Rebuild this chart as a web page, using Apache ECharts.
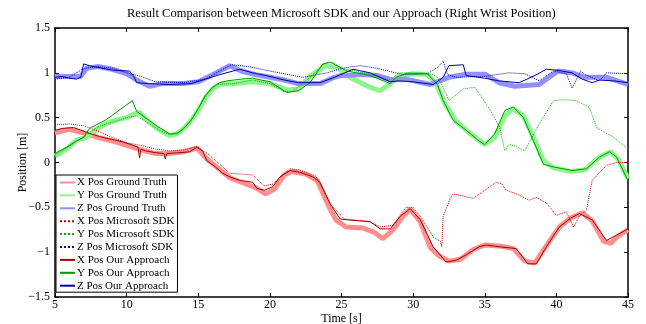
<!DOCTYPE html>
<html>
<head>
<meta charset="utf-8">
<script src="https://cdn.jsdelivr.net/npm/echarts@6/dist/echarts.min.js"></script>
<style>
  html, body { margin: 0; padding: 0; background: #fff; }
  #main { width: 646px; height: 324px; }
</style>
</head>
<body>
<div id="main"></div>
<script>
// [time s, position m]
var xGT = [[5,0.33],[6,0.37],[7,0.33],[8,0.28],[9,0.24],[10,0.19],[11,0.14],[12,0.1],[13,0.1],[14,0.12],[14.9,0.16],[15.6,0.04],[16.5,-0.08],[17.2,-0.17],[18,-0.22],[19,-0.28],[19.7,-0.35],[20.3,-0.3],[21,-0.14],[21.5,-0.1],[22.5,-0.13],[23.3,-0.2],[24,-0.45],[24.6,-0.64],[25.3,-0.72],[26.5,-0.73],[27.3,-0.78],[27.9,-0.85],[28.6,-0.75],[29.3,-0.6],[29.8,-0.52],[30.5,-0.66],[31.2,-0.95],[31.8,-1.04],[32.5,-1.1],[33.3,-1.08],[34.2,-0.97],[35,-0.92],[36,-0.93],[37,-0.96],[37.8,-1.1],[38.5,-1.12],[39.3,-0.93],[40.2,-0.72],[41,-0.62],[41.8,-0.56],[42.5,-0.65],[43.3,-0.88],[43.8,-0.9],[44.3,-0.82],[45,-0.75]];
var yGT = [[5,0.07],[5.8,0.15],[6.5,0.25],[7,0.27],[7.4,0.3],[8,0.38],[8.5,0.43],[9.2,0.47],[10,0.5],[10.5,0.54],[10.9,0.56],[11.5,0.46],[12.2,0.37],[13,0.3],[13.5,0.32],[14,0.38],[14.5,0.47],[15,0.58],[15.5,0.72],[16,0.82],[16.5,0.87],[17.5,0.88],[18.8,0.9],[20,0.88],[21.2,0.81],[22,0.82],[22.8,0.96],[23.9,1.08],[24.8,1.05],[25.8,0.93],[27,0.84],[27.7,0.8],[28.4,0.88],[29,0.96],[30,0.99],[31,0.98],[31.6,0.88],[32.2,0.66],[33,0.46],[34,0.32],[35,0.2],[35.7,0.28],[36.4,0.52],[37,0.6],[37.7,0.52],[38.4,0.28],[39.1,0.02],[39.8,-0.06],[41,-0.1],[42,-0.08],[43,0.06],[43.8,0.12],[44.3,0.04],[45,-0.18]];
var zGT = [[5,0.96],[6,0.96],[6.8,0.96],[7.2,1.05],[8,1.07],[9,1.04],[10,0.99],[10.6,0.93],[11.2,0.88],[11.6,0.85],[12.5,0.88],[14,0.88],[15,0.9],[16,0.98],[17.2,1.08],[18,1.02],[19,0.98],[20,0.95],[21,0.92],[22,0.88],[23.5,0.88],[24.5,0.95],[25,0.97],[26.5,0.98],[27.5,0.97],[28.5,0.92],[29.5,0.93],[31.2,0.87],[32.5,0.95],[33.7,0.985],[35,0.985],[36,0.89],[37.1,0.85],[38.8,0.87],[40.1,1.02],[41.1,1.0],[42,0.95],[43.5,0.95],[45,0.87]];

var xSDK = [[5,0.42],[6,0.43],[7,0.41],[8,0.35],[9,0.28],[10,0.22],[11,0.19],[12,0.15],[13,0.13],[14,0.14],[14.9,0.18],[15.8,0.08],[16.5,-0.02],[17.2,-0.12],[18,-0.13],[18.8,-0.14],[19.6,-0.26],[20.2,-0.24],[21.4,-0.07],[22,-0.08],[23.2,-0.15],[24.3,-0.48],[25.2,-0.63],[27,-0.66],[27.7,-0.72],[28.6,-0.7],[29.5,-0.5],[30,-0.5],[30.6,-0.62],[31.4,-0.83],[31.9,-0.88],[32.0,-0.94],[32.1,-0.6],[32.6,-0.4],[32.8,-0.35],[34.2,-0.4],[35.8,-0.22],[36.2,-0.24],[36.5,-0.31],[37.2,-0.35],[38.1,-0.42],[38.6,-0.39],[39.3,-0.45],[40,-0.59],[40.7,-0.55],[41.2,-0.72],[41.6,-0.6],[42.1,-0.53],[42.5,-0.2],[43.5,-0.03],[44.2,0.0],[45,0.0]];
var ySDK = [[5,0.08],[6,0.18],[7,0.29],[8,0.4],[9,0.45],[10,0.5],[10.7,0.52],[11.5,0.44],[12.3,0.36],[13,0.31],[13.7,0.34],[14.5,0.47],[15,0.6],[15.7,0.78],[16.3,0.87],[17.5,0.88],[18.8,0.92],[20,0.88],[21,0.79],[21.5,0.79],[22.3,0.88],[23,0.98],[23.8,1.1],[24.4,1.12],[25,1.05],[26,1.02],[27,0.98],[28.4,0.92],[29,1.0],[30.5,1.0],[31.4,0.98],[31.7,0.95],[32.1,0.84],[32.5,0.69],[33.5,0.82],[34.3,0.84],[35.4,0.58],[36.05,0.39],[36.4,0.13],[36.7,0.2],[37.2,0.18],[37.8,0.13],[38.8,0.43],[39.8,0.69],[40.5,0.7],[41.4,0.69],[42.3,0.615],[42.8,0.39],[44,0.28],[45,0.15]];
var zSDK = [[5,0.93],[6,0.95],[7,1.05],[8,1.07],[9,1.05],[10,1.0],[11,0.96],[12,0.9],[14,0.89],[15.5,0.93],[16.5,1.02],[17.3,1.09],[18.5,1.07],[20,1.02],[22.3,0.95],[24,1.0],[25,1.05],[26.3,1.08],[27.5,1.05],[29.3,0.98],[31,0.99],[31.7,1.06],[32.1,1.13],[32.4,0.98],[33,0.95],[35,0.96],[36,0.985],[36.7,1.0],[37.8,0.99],[38.8,0.91],[39.8,1.02],[40.7,0.99],[41.1,0.83],[41.7,1.02],[42,0.98],[43,0.91],[43.5,1.0],[45,0.99]];

var xOurs = [[5,0.36],[5.5,0.38],[6.3,0.39],[6.8,0.36],[7.5,0.32],[8.1,0.29],[8.6,0.27],[9.2,0.25],[9.7,0.23],[10.3,0.2],[10.8,0.17],[10.9,0.05],[11.0,0.15],[11.3,0.13],[12,0.11],[12.6,0.1],[12.7,0.04],[12.8,0.1],[13.8,0.11],[14.4,0.12],[14.9,0.17],[15.3,0.13],[15.6,0.02],[16.2,-0.05],[16.7,-0.12],[17.2,-0.16],[17.9,-0.2],[18.8,-0.22],[19.1,-0.29],[19.6,-0.31],[20.2,-0.27],[20.7,-0.16],[21.4,-0.09],[22.1,-0.11],[23.0,-0.16],[23.5,-0.22],[24.2,-0.46],[24.9,-0.63],[25.8,-0.645],[27,-0.66],[27.7,-0.74],[28.4,-0.74],[29.1,-0.6],[29.8,-0.515],[30.5,-0.64],[31.4,-0.94],[32.3,-1.11],[33,-1.09],[33.7,-1.03],[34.6,-0.94],[35.1,-0.92],[36,-0.94],[37.2,-0.96],[38,-1.13],[38.6,-1.13],[39.3,-0.94],[40.2,-0.72],[41,-0.62],[41.6,-0.57],[42.5,-0.64],[43.5,-0.87],[44.2,-0.81],[45,-0.74]];
var yOurs = [[5,0.1],[5.8,0.17],[6.5,0.24],[7,0.28],[7.4,0.38],[8,0.43],[8.5,0.47],[9.2,0.55],[9.8,0.62],[10.4,0.69],[10.7,0.57],[11.3,0.5],[12,0.42],[13,0.32],[13.5,0.32],[14,0.38],[14.5,0.47],[15,0.6],[15.5,0.75],[16,0.84],[16.5,0.89],[17,0.91],[18,0.93],[18.8,0.94],[20,0.9],[21.2,0.78],[22,0.8],[22.8,0.89],[23.7,1.1],[24.2,1.12],[25.4,1.02],[27,0.97],[28.4,0.88],[28.8,0.95],[29.5,0.99],[31,0.99],[31.7,0.87],[32.1,0.69],[32.8,0.47],[33.7,0.36],[34.6,0.24],[35,0.2],[35.7,0.32],[36.4,0.58],[37,0.62],[37.7,0.5],[38.4,0.24],[39.1,-0.02],[39.8,-0.05],[41.1,-0.09],[42.1,-0.07],[43,0.06],[43.7,0.12],[44.2,0.06],[45,-0.2]];
var zOurs = [[5,0.95],[5.5,0.96],[6,0.94],[6.5,0.93],[6.8,0.95],[7,1.1],[7.4,1.08],[8,1.06],[9,1.03],[10.2,1.02],[10.5,0.96],[10.7,0.89],[11.5,0.88],[13,0.87],[14.5,0.88],[15.5,0.93],[16.5,0.98],[17.9,1.04],[18.8,1.0],[20,0.96],[21,0.92],[22,0.89],[23.5,0.89],[24.5,0.95],[25.8,1.04],[27,1.0],[28.4,0.9],[29,0.91],[30,0.9],[31.4,0.87],[32.1,0.95],[32.5,1.08],[33.5,1.09],[33.7,0.97],[35,0.94],[36,0.91],[37.4,0.89],[38.5,0.97],[39.3,1.04],[40,1.03],[41.1,1.0],[41.8,0.93],[42.5,0.89],[43,0.92],[44,0.91],[45,0.89]];

var names = ['X Pos Ground Truth','Y Pos Ground Truth','Z Pos Ground Truth',
             'X Pos Microsoft SDK','Y Pos Microsoft SDK','Z Pos Microsoft SDK',
             'X Pos Our Approach','Y Pos Our Approach','Z Pos Our Approach'];
var seriesData = [xGT, yGT, zGT, xSDK, ySDK, zSDK, xOurs, yOurs, zOurs];
var colors = ['#ff8e8e','#8ef58e','#9191ff','#cc0000','#00bb00','#0000cc','#a00000','#009a00','#0000a0'];
var widths = [5, 5, 5, 1, 1, 1, 1, 1, 1];
var types = ['solid','solid','solid','dotted','dotted','dotted','solid','solid','solid'];

var font = '"Liberation Serif", "Times New Roman", serif';
var chart = echarts.init(document.getElementById('main'));

var series = [];
for (var i = 0; i < names.length; i++) {
    series.push({
        name: names[i],
        type: 'line',
        data: seriesData[i],
        symbol: 'none',
        color: colors[i],
        lineStyle: { color: colors[i], width: widths[i], type: types[i] },
        animation: false
    });
}

var axisCommon = {
    axisLine: { show: true, onZero: false, lineStyle: { color: '#000', width: 1.5 } },
    axisTick: { show: true, inside: true, length: 4, lineStyle: { color: '#000' } },
    splitLine: { show: false },
    nameMoveOverlap: false
};

var option = {
    backgroundColor: '#fff',
    title: {
        text: 'Result Comparison between Microsoft SDK and our Approach (Right Wrist Position)',
        left: 122, top: 2,
        textStyle: { fontFamily: font, fontSize: 12.5, fontWeight: 'normal', color: '#000' }
    },
    legend: {
        data: names,
        orient: 'vertical',
        left: 56, top: 175,
        itemWidth: 15, itemHeight: 6, itemGap: 1.9,
        padding: [2, 3, 1, 3],
        backgroundColor: '#fff',
        borderColor: '#000', borderWidth: 1,
        itemStyle: { opacity: 0 },
        textStyle: { fontFamily: font, fontSize: 11, color: '#000', padding: [0, 0, 0, -3] }
    },
    grid: { left: 55, right: 18, top: 28, bottom: 27, outerBoundsMode: 'none', containLabel: false },
    xAxis: [
        Object.assign({
            type: 'value', min: 5, max: 45, interval: 5, position: 'bottom',
            name: 'Time [s]', nameLocation: 'middle', nameGap: 16,
            nameTextStyle: { fontFamily: font, fontSize: 12, color: '#000' },
            axisLabel: { fontFamily: font, fontSize: 12, color: '#000', margin: 2 }
        }, axisCommon),
        Object.assign({
            type: 'value', min: 5, max: 45, interval: 5, position: 'top',
            axisLabel: { show: false }
        }, axisCommon)
    ],
    yAxis: [
        Object.assign({
            type: 'value', min: -1.5, max: 1.5, interval: 0.5, position: 'left',
            name: 'Position [m]', nameLocation: 'middle', nameGap: 26,
            nameTextStyle: { fontFamily: font, fontSize: 12, color: '#000' },
            axisLabel: {
                fontFamily: font, fontSize: 12, color: '#000', margin: 5,
                formatter: function (v) { return String(v).replace('-', '\u2212'); }
            }
        }, axisCommon),
        Object.assign({
            type: 'value', min: -1.5, max: 1.5, interval: 0.5, position: 'right',
            axisLabel: { show: false }
        }, axisCommon)
    ],
    series: series
};

chart.setOption(option);
</script>
</body>
</html>
